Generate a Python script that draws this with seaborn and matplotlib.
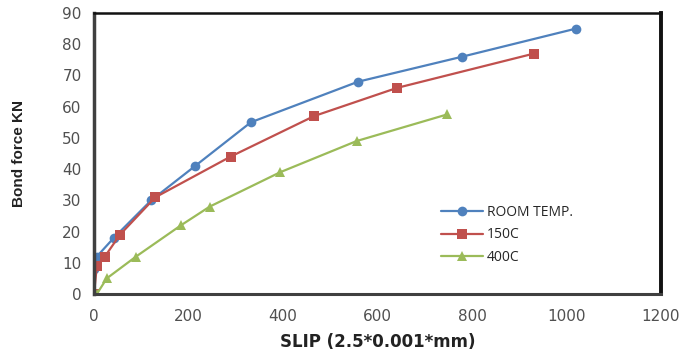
import matplotlib
matplotlib.use("Agg")
import matplotlib.pyplot as plt
import seaborn as sns
import pandas as pd

room_x = [0, 6, 42, 121, 214, 332, 559, 779, 1020]
room_y = [8, 12, 18, 30, 41, 55, 68, 76, 85]
c150_x = [0, 6, 23, 55, 130, 289, 466, 641, 931]
c150_y = [0, 9, 12, 19, 31, 44, 57, 66, 77]
c400_x = [6, 27, 89, 184, 245, 394, 556, 747]
c400_y = [0, 5, 12, 22, 28, 39, 49, 57.5]
series_names = ["ROOM TEMP.", "150C", "400C"]
x_ticks = [0, 200, 400, 600, 800, 1000, 1200]
y_ticks = [0, 10, 20, 30, 40, 50, 60, 70, 80, 90]

frames = []
for name, xs, ys in zip(series_names, [room_x, c150_x, c400_x], [room_y, c150_y, c400_y]):
    frames.append(pd.DataFrame({"slip": xs, "force": ys, "series": name}))
df = pd.concat(frames, ignore_index=True)

sns.set_style("white")
plt.rcParams['font.family'] = ['DejaVu Sans']

fig = plt.figure(figsize=(6.85, 3.56), dpi=100)
ax = fig.add_axes([94/685, 1-294/356, (661-94)/685, (294-13)/356])

palette = {"ROOM TEMP.": "#4F81BD", "150C": "#C0504D", "400C": "#9BBB59"}
markers = {"ROOM TEMP.": "o", "150C": "s", "400C": "^"}
sns.lineplot(data=df, x="slip", y="force", hue="series", style="series",
             palette=palette, markers=markers, dashes=False, sort=False,
             markersize=7, markeredgewidth=0, linewidth=1.6, ax=ax, legend=True)

ax.set_xlim(0, 1200)
ax.set_ylim(0, 90)
ax.set_xticks(x_ticks)
ax.set_yticks(y_ticks)
ax.tick_params(axis='both', labelsize=11, colors='#666666', labelcolor='#505050',
               length=4, width=1, direction='out')
ax.tick_params(axis='x', pad=7)
ax.tick_params(axis='y', pad=5)

for side, col, lw in [("left", "#404040", 2.5), ("bottom", "#404040", 2.2),
                      ("top", "#111111", 1.8), ("right", "#111111", 2.8)]:
    ax.spines[side].set_visible(True)
    ax.spines[side].set_color(col)
    ax.spines[side].set_linewidth(lw)

ax.set_xlabel("SLIP (2.5*0.001*mm)", fontsize=12, fontweight='bold', color='#222222', labelpad=6)
ax.set_ylabel("Bond force KN", fontsize=11, fontweight='bold', fontstretch='condensed',
              family=['Liberation Sans Narrow', 'Liberation Sans'],
              color='#222222', labelpad=26)

h, l = ax.get_legend_handles_labels()
leg = ax.legend(h, l, loc='upper left', bbox_to_anchor=(0.59, 0.362), frameon=False,
                handlelength=3.0, labelspacing=0.55, handletextpad=0.3,
                prop={'family': 'Open Sans', 'size': 10})

fig.savefig("out.png", dpi=100)
